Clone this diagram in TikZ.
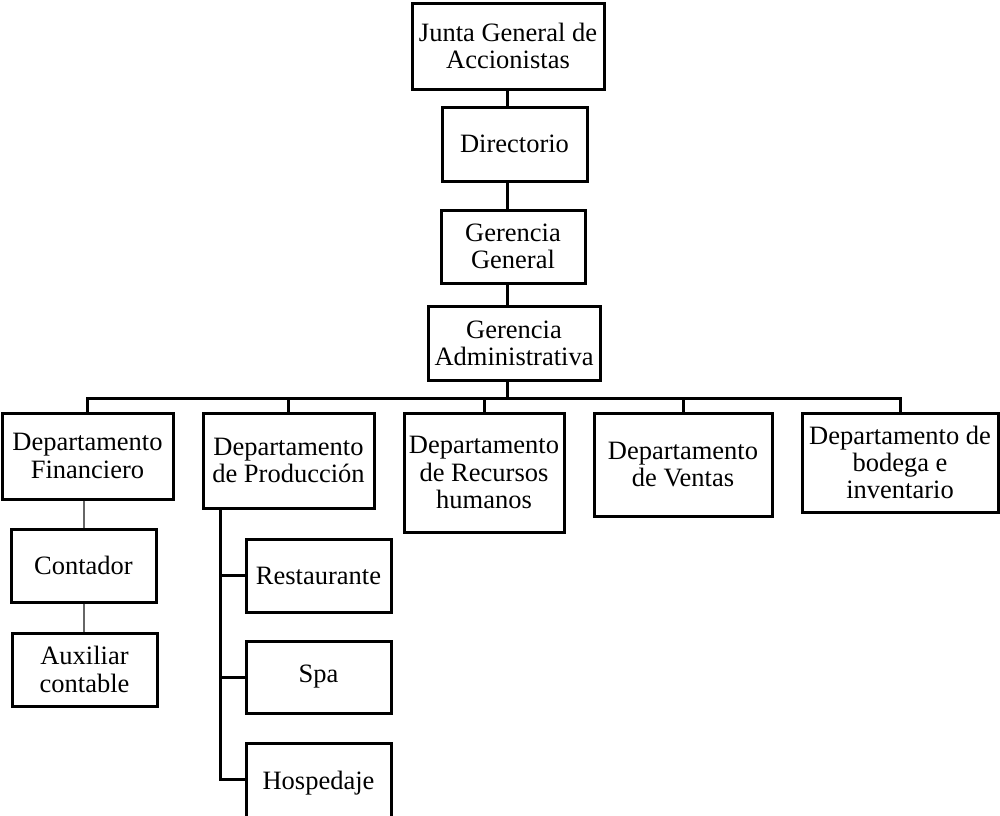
\documentclass[tikz,border=0pt]{standalone}
\usepackage{fontspec}
\setmainfont{Liberation Serif}

\begin{document}
\begin{tikzpicture}[x=0.5pt,y=-0.5pt,
  box/.style={draw,line width=1.5pt,inner sep=0pt,align=center,
    font=\fontsize{13.25}{13.6}\selectfont},
  link/.style={line width=1.5pt},
  thinlink/.style={line width=1pt,draw=black!60}]
  \useasboundingbox (0,0) rectangle (1000,815);
  % main line
  \node[box,minimum width=96pt,minimum height=43pt] (junta) at (508,46) {Junta General de\\Accionistas};
  \node[box,minimum width=72.5pt,minimum height=37pt] (dir) at (514.5,144) {Directorio};
  \node[box,minimum width=72pt,minimum height=36.5pt] (gg) at (513,246.5) {Gerencia\\General};
  \node[box,minimum width=86pt,minimum height=37pt] (ga) at (514,343) {Gerencia\\Administrativa};
  % departments
  \node[box,minimum width=85.5pt,minimum height=43pt] (fin) at (87.5,456) {Departamento\\Financiero};
  \node[box,minimum width=85.5pt,minimum height=47.5pt] (prod) at (288.5,460.5) {Departamento\\de Producción};
  \node[box,minimum width=80pt,minimum height=59.5pt] (rrhh) at (484,472.5) {Departamento\\de Recursos\\humanos};
  \node[box,minimum width=89pt,minimum height=51.5pt] (ventas) at (683,464.5) {Departamento\\de Ventas};
  \node[box,minimum width=98pt,minimum height=49.5pt] (bodega) at (900,462.5) {Departamento de\\bodega e\\inventario};
  % sub units
  \node[box,minimum width=72.5pt,minimum height=36.5pt] (cont) at (83.5,565.5) {Contador};
  \node[box,minimum width=72.5pt,minimum height=36.5pt] (aux) at (84.5,669.5) {Auxiliar\\contable};
  \node[box,minimum width=72.5pt,minimum height=36.5pt] (rest) at (318.5,575.5) {Restaurante};
  \node[box,minimum width=72.5pt,minimum height=36pt] (spa) at (318.5,677) {Spa};
  \node[box,minimum width=72.5pt,minimum height=40pt] (hosp) at (318.5,783) {Hospedaje};

  \coordinate (bus) at (507,398);
  \coordinate (pspine) at (220,779);

  \draw[link] (junta.south -| bus) -- (dir.north -| bus);
  \draw[link] (dir.south -| bus) -- (gg.north -| bus);
  \draw[link] (gg.south -| bus) -- (ga.north -| bus);
  \draw[link] (ga.south -| bus) -- (bus);
  \draw[link] (fin.north) |- (bus) -| (bodega.north);
  \foreach \d in {prod,rrhh,ventas} {
    \draw[link] (\d.north |- bus) -- (\d.north);
  }
  \draw[thinlink] (fin.south -| cont.north) -- (cont.north);
  \draw[thinlink] (cont.south) -- (aux.north -| cont.south);
  \draw[link] (prod.south -| pspine) |- (hosp.west |- pspine);
  \foreach \s in {rest,spa} {
    \draw[link] (\s.west -| pspine) -- (\s.west);
  }
\end{tikzpicture}
\end{document}
